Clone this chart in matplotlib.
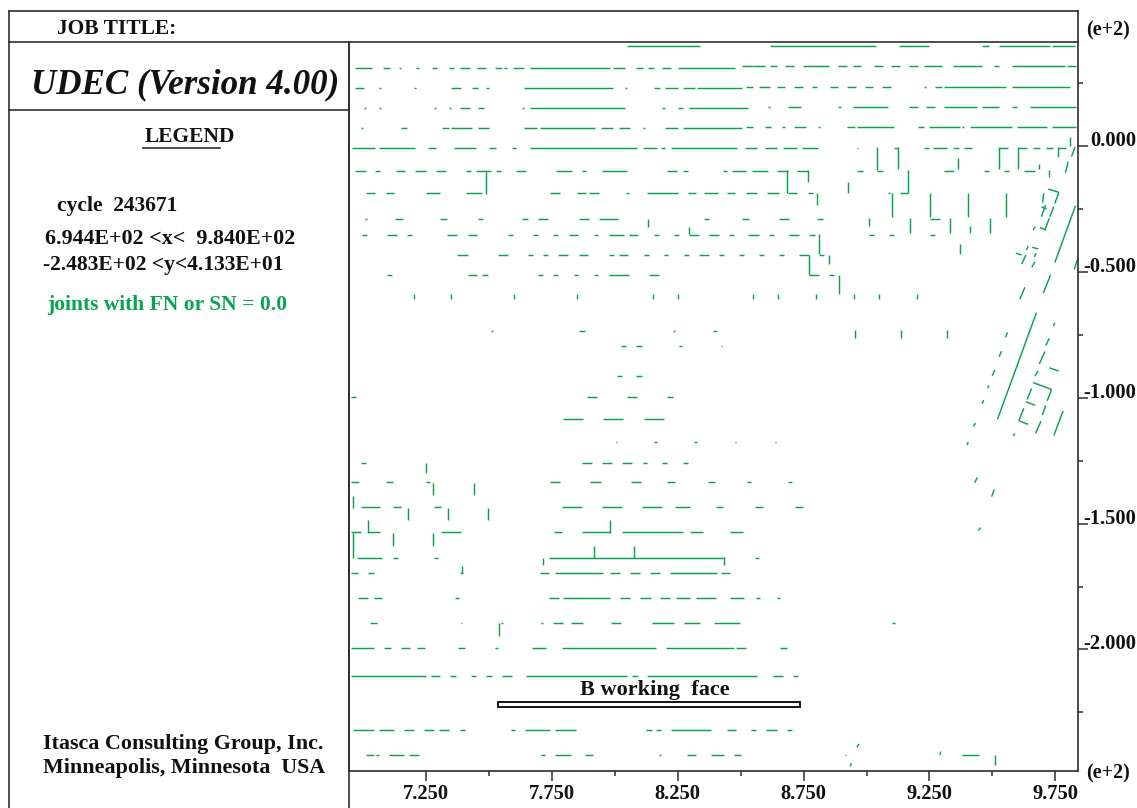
import matplotlib
matplotlib.use('Agg')
import matplotlib.pyplot as plt
from matplotlib.collections import LineCollection
from matplotlib.lines import Line2D
from matplotlib.patches import Rectangle

plt.rcParams['font.family'] = ['Liberation Serif', 'DejaVu Serif']

# all values in metres, the plot shows them as e+2
x_min, x_max = 694.4, 984.0
y_min, y_max = -248.3, 41.33

x_major = [725, 775, 825, 875, 925, 975]
x_minor = [750, 800, 850, 900, 950]
x_labels = ['7.250', '7.750', '8.250', '8.750', '9.250', '9.750']
y_major = [0, -50, -100, -150, -200]
y_minor = [25, -25, -75, -125, -175, -225]
y_labels = ['0.000', '-0.500', '-1.000', '-1.500', '-2.000']

# horizontal joints, one list per row (start, end)
row_a = [(804.9, 834.0), (861.6, 903.7), (912.9, 924.8), (945.7, 948.7), (952.7, 972.8), (973.8, 982.8)]
row_b1 = [(696.6, 703.7), (708.1, 710.6), (714.2, 715.1), (721.2, 722.1), (727.2, 729.2), (734.1, 736.2),
          (738.6, 742.3), (745.4, 749.0), (752.5, 755.1), (756.0, 757.0), (759.5, 764.1), (766.5, 798.0),
          (799.1, 804.1), (808.6, 811.0), (813.0, 815.6), (818.9, 822.5), (824.9, 847.9)]
row_b2 = [(850.4, 854.3), (854.3, 859.6), (861.6, 864.3), (867.6, 871.3), (874.6, 885.2), (888.8, 892.1),
          (894.7, 897.6), (902.9, 906.4), (909.7, 913.3), (916.8, 920.3), (922.8, 929.8), (934.4, 945.7),
          (950.7, 952.7), (957.9, 978.8), (979.7, 983.2)]
row_c1 = [(696.6, 700.2), (706.3, 707.2), (720.2, 721.1), (735.1, 738.7), (743.1, 745.6), (749.0, 749.9),
          (764.0, 799.1), (804.0, 804.9), (815.5, 818.1), (820.0, 825.2), (827.0, 832.0), (832.8, 850.6)]
row_c2 = [(852.3, 854.7), (857.2, 861.6), (864.3, 867.8), (871.2, 874.6), (878.3, 880.5), (885.3, 888.8),
          (892.3, 895.8), (899.4, 902.7), (906.2, 909.9), (922.9, 923.6), (927.2, 929.8), (930.7, 955.2),
          (957.9, 980.8)]
row_d1 = [(700.2, 701.1), (706.3, 707.2), (728.1, 729.0), (734.2, 735.1), (738.6, 742.3), (745.6, 748.1),
          (763.1, 764.0), (766.5, 804.1), (818.9, 820.0), (825.0, 827.1), (829.4, 853.0)]
row_d2 = [(860.9, 861.6), (868.9, 873.9), (888.8, 889.7), (894.7, 908.6), (916.8, 920.3), (923.7, 927.2),
          (930.7, 943.7), (945.7, 952.7), (957.9, 959.9), (964.9, 983.2)]
row_e1 = [(699.1, 700.0), (715.1, 717.6), (731.5, 734.2), (735.1, 743.1), (745.6, 750.1), (764.1, 769.1),
          (770.1, 792.2), (794.6, 799.1), (801.6, 806.1), (811.1, 812.0), (820.1, 825.2), (827.0, 850.6)]
row_e2 = [(852.3, 854.7), (859.6, 861.9), (866.6, 867.8), (871.2, 875.8), (880.8, 881.6), (892.3, 895.4),
          (896.3, 910.9), (920.3, 922.8), (924.8, 937.1), (938.0, 938.7), (941.2, 957.6), (959.9, 971.5),
          (973.8, 983.4)]
row_f1 = [(695.4, 704.9), (706.5, 720.8), (725.6, 728.8), (736.0, 744.9), (750.1, 752.9), (759.0, 760.8),
          (766.4, 808.7), (811.0, 816.7), (818.4, 820.1), (822.4, 848.7)]
row_f2 = [(851.7, 856.6), (859.6, 864.5), (866.9, 872.5), (874.2, 880.6), (896.3, 896.8), (910.9, 912.3),
          (922.8, 924.8), (926.5, 932.0), (934.4, 936.7), (938.7, 941.7), (952.6, 956.3), (960.3, 963.6),
          (966.2, 968.9), (971.2, 974.2), (976.1, 979.2)]
row_g = [(696.7, 701.0), (704.9, 706.9), (712.9, 716.8), (720.8, 724.8), (728.8, 732.9), (740.8, 742.8),
         (744.8, 750.9), (752.9, 754.8), (760.8, 764.8), (776.8, 782.8), (786.9, 788.7), (794.8, 804.9),
         (820.8, 824.8), (826.9, 828.9), (842.8, 844.7), (846.7, 852.3), (854.3, 860.7), (864.5, 868.9),
         (872.5, 876.8), (896.3, 898.4), (904.2, 906.4), (930.7, 934.7), (946.7, 948.7), (954.7, 956.6),
         (962.6, 966.9)]
row_h = [(701.0, 704.9), (708.9, 712.2), (724.9, 730.7), (740.8, 747.4), (774.2, 778.1), (784.8, 788.7),
         (789.8, 793.8), (804.6, 805.7), (812.7, 824.9), (828.9, 832.2), (835.6, 840.8), (844.7, 847.8),
         (852.3, 856.6), (860.6, 865.3), (868.6, 872.5), (876.6, 878.6), (908.6, 909.5), (913.3, 916.6)]
row_i = [(700.7, 701.5), (712.6, 715.7), (730.7, 733.5), (745.7, 747.7), (763.1, 765.4), (769.4, 773.4),
         (785.6, 789.9), (793.9, 801.3), (835.6, 837.5), (850.4, 853.4), (865.3, 869.2), (880.3, 882.8),
         (925.3, 929.1)]
row_j = [(699.4, 701.6), (709.4, 713.5), (717.5, 719.5), (733.5, 737.5), (741.6, 745.4), (757.5, 759.5),
         (767.6, 769.5), (775.5, 777.5), (781.6, 785.4), (791.7, 793.4), (797.5, 803.6), (805.6, 809.4),
         (815.5, 817.5), (823.4, 825.4), (829.5, 833.4), (837.5, 841.4), (845.5, 847.4), (853.0, 857.2),
         (861.2, 863.2), (869.2, 873.1), (877.2, 879.5), (901.1, 903.1), (909.0, 911.1), (925.2, 927.2)]
row_k = [(737.5, 741.5), (753.5, 757.5), (765.4, 767.6), (771.5, 773.5), (777.5, 781.5), (785.6, 789.5),
         (797.6, 799.6), (801.6, 805.4), (811.5, 813.4), (819.5, 821.3), (827.4, 829.4), (833.5, 837.5),
         (841.4, 843.4), (849.5, 851.5), (857.2, 859.2), (865.2, 867.2), (873.3, 877.1), (881.1, 883.1)]
row_l = [(709.6, 711.6), (741.5, 745.4), (747.4, 749.5), (769.4, 771.5), (775.5, 777.5), (783.6, 785.4),
         (791.7, 793.4), (797.5, 805.6), (813.5, 817.5), (877.1, 881.2), (885.2, 887.2)]
row_m = [(751.0, 751.7), (785.6, 788.2), (823.0, 824.0), (839.0, 840.6)]
row_n = [(802.6, 804.5), (808.3, 810.9), (825.4, 826.7), (842.0, 842.4)]
row_o = [(800.7, 802.8), (808.6, 810.9)]
row_p = [(695.3, 697.0), (789.0, 793.1), (804.9, 809.0), (820.9, 823.2)]
row_q = [(779.5, 787.5), (795.4, 803.4), (811.4, 819.5)]
row_r = [(800.4, 800.9), (815.7, 816.8), (831.6, 832.8), (847.7, 848.2), (863.6, 864.0)]
row_s = [(699.0, 701.0), (786.9, 791.0), (795.0, 798.9), (803.0, 807.0), (811.0, 812.8), (818.9, 820.9),
         (826.9, 828.9)]
row_t = [(695.0, 698.4), (708.9, 711.9), (724.9, 726.4), (774.4, 778.4), (790.3, 794.4), (806.3, 810.5),
         (820.9, 823.8), (836.9, 839.8), (852.6, 854.1), (868.9, 870.2)]
row_u = [(699.0, 706.9), (711.9, 714.9), (728.0, 730.9), (778.9, 786.9), (794.8, 802.9), (810.9, 818.9),
         (823.8, 829.9), (840.0, 842.9), (855.7, 858.7), (871.5, 874.6)]
row_v = [(695.0, 699.0), (701.9, 706.9), (730.9, 738.8), (775.9, 778.9), (786.9, 797.9), (802.9, 826.9),
         (829.9, 834.9), (845.9, 851.0)]
row_w = [(697.6, 707.4), (711.9, 713.7), (728.0, 729.7), (773.8, 843.3), (855.7, 857.4)]
row_x = [(695.0, 697.9), (701.9, 704.5), (738.3, 739.6), (770.1, 774.0), (776.4, 795.4), (798.0, 802.2),
         (806.0, 810.2), (813.9, 818.1), (821.8, 840.4), (842.0, 845.9)]
row_y = [(697.8, 701.9), (704.5, 707.4), (736.4, 738.0), (774.0, 778.0), (779.5, 798.0), (802.0, 806.2),
         (809.9, 814.2), (817.9, 822.1), (824.5, 830.0), (832.4, 840.0), (845.9, 851.3), (856.2, 857.6),
         (864.3, 865.7)]
row_z = [(702.7, 705.7), (738.7, 739.2), (754.6, 755.5), (770.6, 771.4), (775.5, 779.5), (782.5, 787.5),
         (798.5, 802.6), (814.6, 823.4), (827.4, 833.8), (839.3, 849.6), (910.3, 911.3)]
row_aa = [(695.0, 704.4), (708.2, 710.9), (714.9, 718.8), (721.5, 724.4), (737.8, 740.5), (752.3, 753.7),
          (767.2, 772.5), (779.1, 816.4), (820.2, 847.3), (848.2, 852.3), (865.6, 868.2)]
row_ab = [(695.0, 724.8), (726.8, 730.7), (734.7, 736.8), (742.9, 745.0), (749.0, 751.1), (755.0, 759.2),
          (764.9, 804.9), (806.9, 809.1), (812.8, 856.6), (862.9, 866.9), (870.9, 872.9)]
row_ac = [(696.1, 704.3), (706.3, 712.2), (716.2, 720.3), (724.3, 728.2), (730.1, 734.2), (738.3, 740.3),
          (758.6, 760.5), (764.5, 774.4), (776.4, 784.4), (812.3, 814.6), (816.4, 818.4), (822.4, 838.4),
          (844.4, 848.3), (854.0, 856.2), (860.2, 864.3), (868.2, 870.2)]
row_ad = [(701.2, 704.3), (705.2, 706.3), (710.2, 716.2), (718.2, 722.3), (770.5, 772.3), (776.4, 782.4),
          (788.3, 791.3), (817.6, 818.4), (828.5, 832.3), (838.4, 843.3), (847.3, 850.3), (891.5, 892.0),
          (938.0, 944.6)]

rows = [(39.7, row_a), (31.0, row_b1), (31.6, row_b2), (23.0, row_c1), (23.6, row_c2), (15.1, row_d1),
        (15.6, row_d2), (7.0, row_e1), (7.7, row_e2), (-0.9, row_f1), (-0.6, row_f2), (-10.0, row_g),
        (-18.8, row_h), (-28.8, row_i), (-35.3, row_j), (-43.4, row_k), (-51.4, row_l), (-73.5, row_m),
        (-79.5, row_n), (-91.5, row_o), (-99.6, row_p), (-108.5, row_q), (-117.4, row_r), (-125.8, row_s),
        (-133.6, row_t), (-143.5, row_u), (-153.5, row_v), (-163.6, row_w), (-169.6, row_x), (-179.5, row_y),
        (-189.5, row_z), (-199.5, row_aa), (-210.6, row_ab), (-232.2, row_ac), (-242.0, row_ad)]

# vertical joints
vert_x = [748.8, 813.1, 868.5, 876.8, 880.2, 892.5, 904.2, 912.3, 916.6, 910.3, 925.3, 940.4, 955.2, 901.1,
          917.2, 933.1, 941.1, 949.0, 936.4, 952.6, 960.3, 968.5, 972.4, 976.1, 980.8, 829.5, 881.1, 885.1,
          877.1, 889.2, 937.1, 895.5, 913.6, 931.8, 725.0, 727.8, 743.9, 695.9, 717.9, 733.8, 749.8, 701.9,
          711.9, 727.8, 797.9, 695.9, 739.4, 771.4, 791.9, 807.8, 843.4, 753.8, 951.0]
vert_top = [-10.2, -29.0, -9.7, -9.7, -18.8, -14.2, -0.5, -0.5, -9.7, -18.5, -18.5, -18.5, -18.5, -28.7,
            -28.7, -28.7, -31.8, -28.7, -4.9, -0.5, -0.5, -7.3, -9.5, -0.5, 3.4, -32.0, -35.0, -43.3,
            -43.2, -51.1, -38.9, -72.9, -72.9, -72.9, -125.8, -133.8, -133.8, -139.0, -143.7, -143.7, -143.7, -148.7,
            -153.6, -153.6, -148.7, -153.9, -166.7, -163.8, -158.8, -158.8, -163.3, -189.6, -241.8]
vert_bot = [-18.9, -32.0, -18.5, -14.2, -23.4, -18.5, -9.5, -9.3, -18.5, -28.3, -28.3, -28.3, -28.3, -31.8,
            -34.7, -34.7, -34.7, -34.7, -9.3, -9.3, -9.3, -9.3, -12.4, -4.5, 0.0, -35.1, -42.9, -47.0,
            -51.1, -58.8, -42.9, -76.2, -76.2, -76.2, -129.8, -138.7, -138.7, -143.7, -148.7, -148.7, -148.7, -153.6,
            -158.8, -158.8, -153.6, -163.7, -169.7, -166.6, -163.7, -163.7, -166.3, -194.5, -245.9]

# short ticks of the row near y = -60
tick_x = [720.3, 735.1, 760.0, 785.0, 815.2, 825.2, 854.9, 864.9, 879.9, 894.9, 904.8, 919.9]
tick_top = -58.6
tick_bot = -60.6

# inclined joints (x0, y0, x1, y1)
slant = [(983.0, -23.7, 974.8, -46.3), (973.1, -51.2, 970.2, -58.5), (962.9, -56.1, 960.9, -60.9),
         (983.7, -45.3, 982.5, -49.0), (982.8, -0.5, 981.4, -4.2), (980.1, -6.2, 979.0, -10.6),
         (972.2, -17.1, 976.4, -18.4), (976.4, -18.4, 974.8, -22.8), (970.4, -18.8, 969.9, -22.5),
         (971.1, -23.4, 969.5, -28.1), (969.5, -24.1, 971.5, -25.0), (974.4, -24.1, 972.8, -28.1),
         (972.6, -28.7, 970.8, -33.4), (968.9, -32.4, 971.3, -33.4), (967.0, -32.0, 966.2, -33.4),
         (964.2, -39.7, 963.6, -41.3), (965.8, -40.2, 968.2, -40.9), (959.3, -42.6, 961.6, -43.3),
         (963.3, -43.3, 961.6, -46.9), (967.5, -42.6, 966.6, -44.0), (966.9, -46.0, 965.6, -48.2),
         (967.5, -66.2, 952.0, -108.6), (956.0, -74.0, 955.2, -76.0), (953.6, -81.5, 952.7, -83.7),
         (951.0, -89.0, 949.9, -91.3), (948.6, -95.1, 948.1, -96.2), (946.5, -100.9, 946.0, -102.4),
         (943.3, -110.1, 942.5, -111.4), (940.4, -117.6, 939.9, -118.8), (944.0, -131.6, 943.0, -133.8),
         (950.7, -136.5, 949.7, -139.3), (945.3, -151.6, 944.5, -152.8), (974.8, -70.2, 974.2, -71.5),
         (972.6, -76.4, 971.2, -79.3), (970.9, -81.6, 968.6, -86.6), (968.2, -89.3, 966.9, -91.4),
         (972.6, -88.1, 976.3, -89.4), (966.2, -94.0, 973.5, -96.7), (973.5, -96.7, 971.8, -101.2),
         (965.6, -96.3, 963.8, -100.7), (963.3, -101.6, 967.0, -103.0), (971.2, -103.0, 969.8, -106.9),
         (962.5, -104.2, 960.5, -109.1), (960.5, -109.1, 964.2, -110.6), (969.3, -109.3, 967.1, -114.2),
         (978.1, -105.2, 974.4, -115.0), (958.9, -114.2, 958.3, -115.2), (897.0, -237.5, 896.2, -238.9),
         (894.0, -245.2, 893.5, -246.5), (929.5, -240.6, 929.1, -241.9)]

face_x = [753.5, 873.5]
face_y = [-222.7, -220.7]

GREEN = '#0AA350'
DARK = '#2E2E2E'
W, H = 1137, 808

fig = plt.figure(figsize=(W / 100, H / 100), dpi=100)
ax = fig.add_axes([349 / W, (H - 771) / H, 729 / W, 729 / H])
ax.set_xlim(x_min, x_max)
ax.set_ylim(y_min, y_max)

segs = []
for y, spans in rows:
    for a, b in spans:
        segs.append([(a, y), (b, y)])
for x, t, b in zip(vert_x, vert_top, vert_bot):
    segs.append([(x, t), (x, b)])
for x in tick_x:
    segs.append([(x, tick_top), (x, tick_bot)])
for x0, y0, x1, y1 in slant:
    segs.append([(x0, y0), (x1, y1)])
ax.add_collection(LineCollection(segs, colors=GREEN, linewidths=1.05, capstyle='butt'))

ax.add_patch(Rectangle((face_x[0], face_y[0]), face_x[1] - face_x[0], face_y[1] - face_y[0],
                       facecolor='white', edgecolor='black', linewidth=1.3))
ax.text(sum(face_x) / 2 + 2.5, -216, 'B working  face', ha='center', va='center',
        fontsize=16, fontweight='bold', color='#111111')

for s in ax.spines.values():
    s.set_linewidth(1.2)
    s.set_color(DARK)

ax.yaxis.tick_right()
ax.set_xticks(x_major)
ax.set_xticklabels(x_labels)
ax.set_xticks(x_minor, minor=True)
ax.set_yticks(y_major)
ax.set_yticklabels(y_labels)
ax.set_yticks(y_minor, minor=True)
ax.tick_params(which='major', length=7.5, width=1.1, color=DARK, labelsize=14.8)
ax.tick_params(which='minor', length=3.8, width=1.1, color=DARK)
ax.tick_params(axis='x', which='major', pad=2)
ax.tick_params(axis='y', which='major', pad=34.5)
for lab in ax.get_xticklabels() + ax.get_yticklabels():
    lab.set_fontweight('bold')
    lab.set_color('#111111')
for lab in ax.get_yticklabels():
    lab.set_horizontalalignment('right')
    lab.set_verticalalignment('baseline')


def line(x0, y0, x1, y1):
    fig.add_artist(Line2D([x0 / W, x1 / W], [1 - y0 / H, 1 - y1 / H], color=DARK, linewidth=1.2))


def label(x, y, s, size, ha='left', color='#111111', style='normal'):
    fig.text(x / W, 1 - y / H, s, fontsize=size, ha=ha, va='center', fontweight='bold',
             color=color, fontstyle=style)


# frame of the title block
line(9, 11, 1078, 11)
line(9, 42, 349, 42)
line(9, 11, 9, 808)
line(349, 42, 349, 808)
line(1078, 11, 1078, 42)
line(9, 110, 349, 110)
line(143, 148, 220, 148)

label(57, 29, 'JOB TITLE:', 15.5)
label(31, 85, 'UDEC (Version 4.00)', 25.2, style='italic')
label(145, 137, 'LEGEND', 15.5)
label(57, 206, 'cycle  243671', 15.5)
label(45, 239, '6.944E+02 <x<  9.840E+02', 15.8)
label(43, 265, '-2.483E+02 <y<4.133E+01', 15.5)
label(47, 305, 'joints with FN or SN = 0.0', 15.5, color=GREEN)
label(183, 744, 'Itasca Consulting Group, Inc.', 15.8, ha='center')
label(184, 768, 'Minneapolis, Minnesota  USA', 15.8, ha='center')
label(1086, 30, '(e+2)', 14.5)
label(1086, 773, '(e+2)', 14.5)

fig.savefig('out.png', dpi=100)
